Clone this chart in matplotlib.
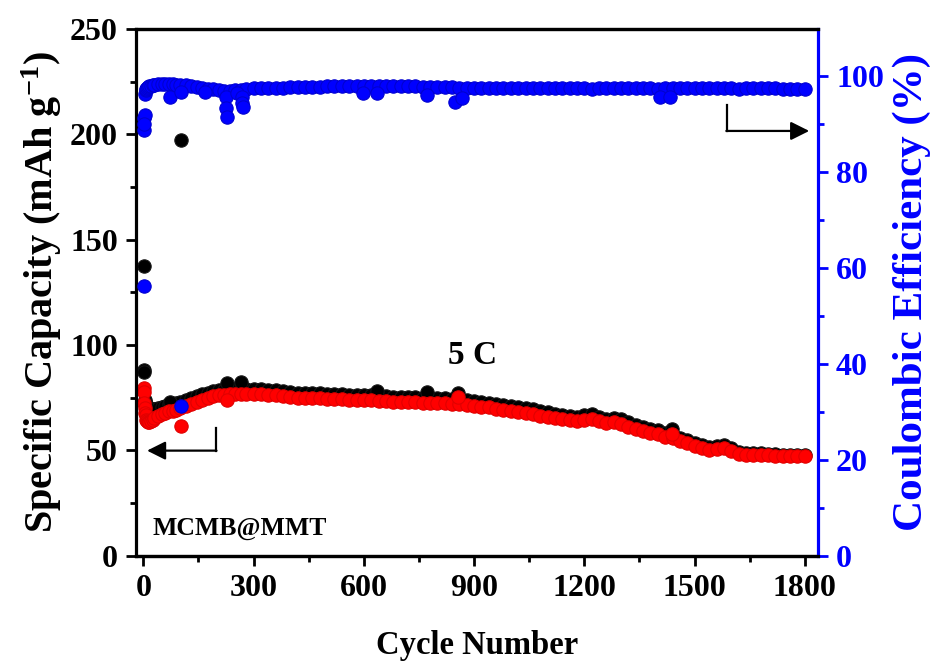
import matplotlib
matplotlib.use("Agg")
import matplotlib.pyplot as plt
from matplotlib.ticker import MultipleLocator

plt.rcParams['font.family'] = ['Liberation Serif', 'DejaVu Serif']
plt.rcParams['font.weight'] = 'bold'
plt.rcParams['axes.labelweight'] = 'bold'
plt.rcParams['mathtext.fontset'] = 'custom'
plt.rcParams['mathtext.rm'] = 'Liberation Serif:bold'
plt.rcParams['mathtext.it'] = 'Liberation Serif:bold'
plt.rcParams['mathtext.bf'] = 'Liberation Serif:bold'

# cycle numbers shared by the three series
cycles = [1, 2, 3, 4, 5, 6, 8, 10, 13, 16, 20, 25, 30, 40, 50, 60, 70, 80, 90, 100,
          115, 130, 145, 160, 175, 190, 205, 220, 235, 250, 265, 280,
          300, 320, 340, 360, 380, 400, 420, 440, 460, 480, 500, 520, 540, 560, 580,
          600, 620, 640, 660, 680, 700, 720, 740, 760, 780, 800, 820, 840, 860, 880,
          900, 920, 940, 960, 980, 1000, 1020, 1040, 1060, 1080, 1100, 1120, 1140, 1160,
          1180, 1200, 1220, 1240, 1260, 1280, 1300, 1320, 1340, 1360, 1380, 1400, 1420,
          1440, 1460, 1480, 1500, 1520, 1540, 1560, 1580, 1600, 1620, 1640, 1660, 1680,
          1700, 1720, 1740, 1760, 1780, 1800]

# capacity, black series (mAh/g)
cap_black = [137.5, 88.0, 87.0, 74.0, 73.0, 72.0, 71.0, 70.5, 70.0, 69.6, 69.4, 69.4, 69.6, 70.0, 70.5, 71.0, 71.8, 71.8, 72.2, 72.8,
             73.8, 74.8, 75.7, 76.5, 77.3, 78.1, 78.5, 78.8, 79.0, 79.1, 79.2, 79.1,
             79.0, 79.0, 78.8, 78.5, 78.1, 77.7, 77.3, 77.3, 77.1, 77.0, 76.8, 76.8, 76.6, 76.4, 76.3,
             76.1, 76.1, 76.0, 75.8, 75.5, 75.4, 75.3, 75.1, 75.0, 74.9, 74.8, 74.6, 74.4, 74.2, 73.8,
             73.4, 73.0, 72.6, 72.1, 71.6, 71.1, 70.6, 70.2, 69.4, 68.6, 68.0, 67.4, 66.9, 66.4,
             65.9, 66.6, 67.2, 65.8, 64.9, 65.4, 64.6, 63.2, 62.0, 61.2, 60.3, 59.4, 58.3,
             57.3, 55.9, 54.8, 53.5, 52.3, 51.6, 52.2, 52.5, 51.0, 49.3, 48.9, 48.7, 48.5,
             48.3, 48.1, 47.9, 47.8, 47.7, 47.7]

# capacity, red series (mAh/g)
cap_red = [79.5, 77.5, 72.6, 70.0, 67.8, 66.5, 64.5, 63.8, 63.5, 63.6, 64.0, 64.5, 65.2, 66.4, 67.2, 67.8, 68.4, 68.8, 69.3, 69.9,
           71.0, 72.1, 73.1, 74.0, 74.8, 75.6, 76.1, 76.4, 76.6, 76.7, 76.8, 76.7,
           76.6, 76.6, 76.4, 76.1, 75.7, 75.3, 75.0, 75.0, 74.8, 74.6, 74.4, 74.4, 74.2, 74.0, 73.9,
           73.7, 73.7, 73.6, 73.4, 73.1, 73.0, 72.9, 72.7, 72.6, 72.5, 72.4, 72.2, 72.0, 71.9, 71.5,
           71.1, 70.7, 70.3, 69.8, 69.3, 68.8, 68.3, 67.9, 67.1, 66.4, 65.8, 65.2, 64.7, 64.2,
           63.8, 64.4, 65.0, 63.7, 62.8, 63.3, 62.5, 61.2, 60.0, 59.2, 58.4, 57.5, 56.5,
           55.6, 54.3, 53.2, 52.0, 50.9, 50.3, 50.8, 51.1, 49.7, 48.2, 47.9, 47.7, 47.6,
           47.5, 47.4, 47.3, 47.3, 47.3, 47.4]

# coulombic efficiency (%)
ce = [56.2, 88.8, 91.2, 91.9, 96.3, 97.0, 97.3, 97.5, 97.7, 97.9, 98.0, 98.1, 98.2, 98.3, 98.3, 98.3, 98.3, 98.3, 98.2, 98.2,
      98.1, 98.0, 97.8, 97.5, 97.3, 97.2, 97.0, 96.9, 96.9, 97.0, 97.1, 97.3,
      97.4, 97.5, 97.5, 97.6, 97.6, 97.7, 97.7, 97.8, 97.8, 97.8, 97.9, 97.9, 97.9, 97.9, 98.0,
      98.0, 98.0, 97.9, 98.0, 98.0, 97.9, 97.9, 97.9, 97.8, 97.8, 97.8, 97.8, 97.7, 97.6, 97.6,
      97.6, 97.6, 97.5, 97.6, 97.6, 97.6, 97.5, 97.5, 97.5, 97.5, 97.5, 97.4, 97.5, 97.5,
      97.4, 97.4, 97.3, 97.4, 97.4, 97.4, 97.4, 97.4, 97.4, 97.4, 97.4, 97.3, 97.4,
      97.4, 97.4, 97.4, 97.4, 97.4, 97.4, 97.4, 97.4, 97.4, 97.3, 97.4, 97.4, 97.4,
      97.4, 97.4, 97.3, 97.3, 97.3, 97.3]

# odd single cycles off the main trend
black_odd_cyc = [73, 102, 228, 265, 635, 771, 856, 1438]
black_odd_val = [73.0, 197.5, 82.0, 82.5, 78.0, 77.5, 77.2, 60.0]
red_odd_cyc = [103, 228, 856, 1438]
red_odd_val = [61.5, 74.0, 75.4, 57.5]
ce_odd_cyc = [3, 73, 102, 168, 225, 226, 228, 255, 268, 269, 271, 599, 635, 771, 848, 866, 1406, 1433, 102]
ce_odd_val = [90.0, 95.6, 96.7, 96.7, 95.7, 93.3, 91.4, 96.5, 95.7, 94.3, 93.6, 96.5, 96.4, 96.0, 94.6, 95.5, 95.7, 95.7, 31.2]

fig = plt.figure(figsize=(9.42, 6.64), dpi=100)
ax = fig.add_axes([0.1444, 0.1634, 0.7240, 0.7929])
ax2 = ax.twinx()

ms = 9.6
ax.plot(cycles, cap_black, 'o', ls='none', ms=ms, mfc='black', mec='#151515', mew=0.8)
ax.plot(black_odd_cyc, black_odd_val, 'o', ls='none', ms=ms, mfc='black', mec='#151515', mew=0.8)
ax.plot(cycles, cap_red, 'o', ls='none', ms=ms, mfc='red', mec='#e00000', mew=0.8)
ax.plot(red_odd_cyc, red_odd_val, 'o', ls='none', ms=ms, mfc='red', mec='#e00000', mew=0.8)
ax2.plot(cycles, ce, 'o', ls='none', ms=ms, mfc='blue', mec='#0000d0', mew=0.8)
ax2.plot(ce_odd_cyc, ce_odd_val, 'o', ls='none', ms=ms, mfc='blue', mec='#0000d0', mew=0.8)

ax.set_xlim(-20, 1836)
ax.set_ylim(0, 250)
ax2.set_ylim(0, 109.8)

ax.xaxis.set_major_locator(MultipleLocator(300))
ax.xaxis.set_minor_locator(MultipleLocator(150))
ax.yaxis.set_major_locator(MultipleLocator(50))
ax.yaxis.set_minor_locator(MultipleLocator(25))
ax2.yaxis.set_major_locator(MultipleLocator(20))
ax2.yaxis.set_minor_locator(MultipleLocator(10))

for a in (ax, ax2):
    for s in a.spines.values():
        s.set_linewidth(2.3)
ax.spines['right'].set_visible(False)
ax2.spines['left'].set_visible(False)
ax2.spines['right'].set_color('blue')

ax.tick_params(axis='both', which='major', direction='out', length=7, width=2, labelsize=23, pad=6)
ax.tick_params(axis='both', which='minor', direction='out', length=4, width=2)
ax.tick_params(axis='x', which='both', top=False)
ax2.tick_params(axis='y', which='major', direction='out', length=7, width=2, labelsize=23,
                pad=6, colors='blue')
ax2.tick_params(axis='y', which='minor', direction='out', length=4, width=2, colors='blue')

ax.set_xlabel('Cycle Number', fontsize=23.5, labelpad=20)
ax.set_ylabel('Specific Capacity (mAh g$^{-1}$)', fontsize=29, labelpad=4)
ax2.set_ylabel('Coulombic Efficiency (%)', fontsize=31, color='blue', labelpad=6)

ax.text(895, 95.2, '5 C', fontsize=24, ha='center', va='center')
ax.text(26, 9.7, 'MCMB@MMT', fontsize=18.5, ha='left', va='baseline')

# arrows pointing to the axis each series belongs to
ax.plot([198.5, 198.5], [60.5, 49.8], color='black', lw=1.6)
ax.annotate('', xy=(10, 49.8), xytext=(199, 49.8),
            arrowprops=dict(arrowstyle='-|>', lw=1.6, color='black', mutation_scale=28,
                            shrinkA=0, shrinkB=0))
ax.plot([1587, 1587], [213.9, 201.6], color='black', lw=1.6)
ax.annotate('', xy=(1812, 201.6), xytext=(1586.5, 201.6),
            arrowprops=dict(arrowstyle='-|>', lw=1.6, color='black', mutation_scale=28,
                            shrinkA=0, shrinkB=0))

fig.savefig('out.png', dpi=100)
